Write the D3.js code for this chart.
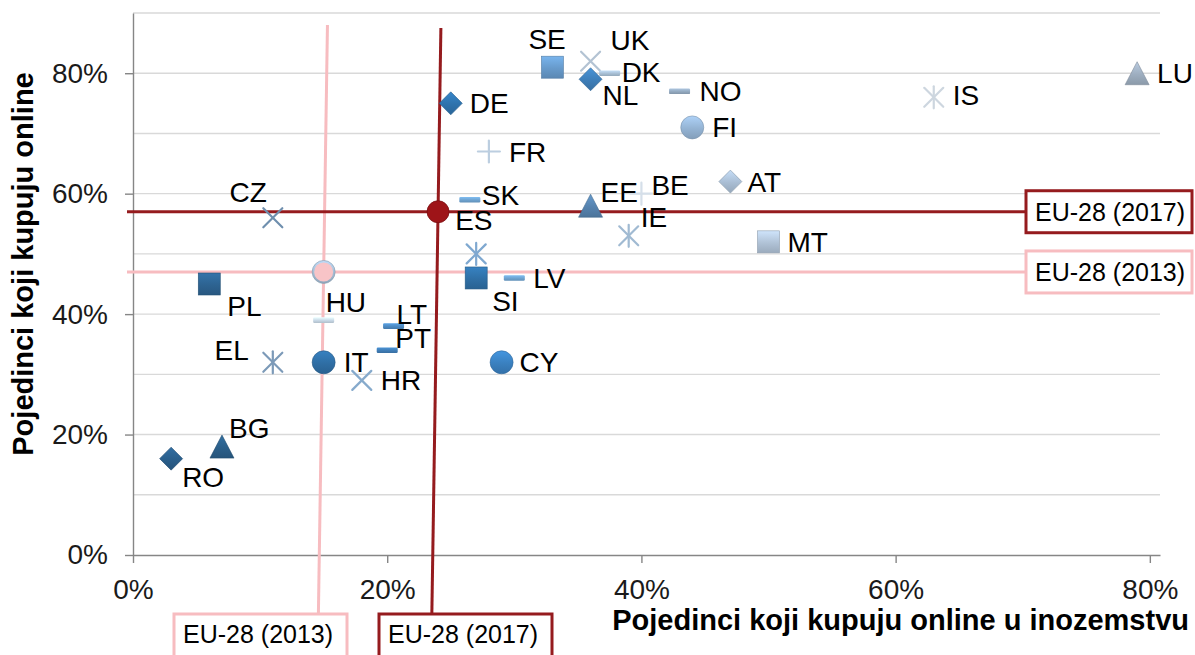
<!DOCTYPE html>
<html>
<head>
<meta charset="utf-8">
<script src="https://cdn.jsdelivr.net/npm/d3@7"></script>
<style>
  html, body { margin: 0; padding: 0; background: #fff; }
  svg { display: block; font-family: "Liberation Sans", Arial, sans-serif; }
</style>
</head>
<body>
<svg id="chart" width="1195" height="655"></svg>
<script>
// ---------------- DATA ----------------
const countries = ["RO","BG","PL","HU","CZ","EL","IT","HR","LT","PT","ES","SK","FR","DE","SE","UK","NL","DK","NO","FI","AT","BE","EE","IE","MT","IS","LU","SI","LV","CY","HU2"];
const crossBorderShare = [0.03,0.07,0.06,0.15,0.11,0.11,0.15,0.18,0.205,0.20,0.27,0.265,0.28,0.25,0.33,0.36,0.36,0.375,0.43,0.44,0.47,0.40,0.36,0.39,0.50,0.63,0.79,0.27,0.30,0.29,0.15];
const onlineShare      = [0.16,0.18,0.45,0.47,0.56,0.32,0.32,0.29,0.38,0.34,0.50,0.59,0.67,0.75,0.81,0.82,0.79,0.80,0.77,0.71,0.62,0.60,0.58,0.53,0.52,0.76,0.80,0.46,0.46,0.32,0.39];
const refNames = ["EU-28 (2013)", "EU-28 (2017)"];
const refCrossBorder = [0.15, 0.24];
const refOnline = [0.47, 0.57];
const xTickValues = [0, 0.2, 0.4, 0.6, 0.8];
const yTickValues = [0, 0.2, 0.4, 0.6, 0.8];
const yGridValues = [0.1,0.2,0.3,0.4,0.5,0.6,0.7,0.8,0.9];
const xTitle = "Pojedinci koji kupuju online u inozemstvu";
const yTitle = "Pojedinci koji kupuju online";

// ---------------- STYLES ----------------
const markerStyle = {
  RO:["diamond","#2A5E8B"], BG:["triangle","#2B5F8A"], PL:["square","#2D6391"], HU:["circle","#A3BCD4"],
  CZ:["x","#6F8FAE"], EL:["asterisk","#7C9AB8"], IT:["circle","#2F6EA4"], HR:["x","#86AACC"],
  LT:["dash","#4D8AC2"], PT:["dash","#3F7DB6"], ES:["asterisk","#7FA8D0"], SK:["dash","#6EA3D0"],
  FR:["plus","#BCCEE0"], DE:["diamond","#2E72AC"], SE:["square","#679ACB"], UK:["x","#B3C3D3"],
  NL:["diamond","#3E7EB8"], DK:["dash","#A8BFD4"], NO:["dash","#93A9BF"], FI:["circle","#94B3D3"],
  AT:["diamond","#A9BDD3"], BE:["plus","#D5DFE9"], EE:["triangle","#5683AF"], IE:["asterisk","#A0BAD2"],
  MT:["square","#B0C2D6"], IS:["asterisk","#CDD6DF"], LU:["triangle","#9EAEC0"], SI:["square","#2F6FA5"],
  LV:["dash","#6EA3D0"], CY:["circle","#3A80BF"], HU2:["dash","#C8D8E6"]
};
// label offsets: [dx, dy(center), anchor]
const labelPos = {
  RO:[11,18,"start"], BG:[7,-19,"start"], PL:[18,22,"start"], HU:[2,30,"start"], CZ:[-6,-26,"end"],
  EL:[-24,-12,"end"], IT:[20,0,"start"], HR:[19,0,"start"], LT:[3,-12,"start"], PT:[8,-12,"start"],
  ES:[-21,-34,"start"], SK:[12,-5,"start"], FR:[20,0,"start"], DE:[19,0,"start"], SE:[-24,-28,"start"],
  UK:[20,-21,"start"], NL:[12,16,"start"], DK:[12,-1,"start"], NO:[20,0,"start"], FI:[20,0,"start"],
  AT:[17,0,"start"], BE:[10,-9,"start"], EE:[10,-14,"start"], IE:[12,-19,"start"], MT:[19,0,"start"],
  IS:[19,-2,"start"], LU:[20,0,"start"], SI:[16,23,"start"], LV:[19,0,"start"], CY:[18,0,"start"]
};
const refColors = ["#F7BCC0", "#951B1E"];

// ---------------- SCALES ----------------
const svg = d3.select("#chart");
const xs = d3.scaleLinear().domain([0, 0.808]).range([133, 1160]);
const ys = d3.scaleLinear().domain([0, 0.9]).range([555, 13]);

const defs = svg.append("defs");
function gradFor(color, i) {
  const id = "g" + i;
  const c = d3.color(color);
  const g = defs.append("linearGradient").attr("id", id).attr("x1", 0).attr("y1", 0).attr("x2", 0).attr("y2", 1);
  g.append("stop").attr("offset", "0%").attr("stop-color", c.brighter(0.45).formatHex());
  g.append("stop").attr("offset", "55%").attr("stop-color", c.formatHex());
  g.append("stop").attr("offset", "100%").attr("stop-color", c.darker(0.35).formatHex());
  return "url(#" + id + ")";
}

// gridlines
svg.append("g").selectAll("line").data(yGridValues).join("line")
  .attr("x1", xs(0)).attr("x2", xs.range()[1])
  .attr("y1", d => ys(d)).attr("y2", d => ys(d))
  .attr("stroke", "#D9D9D9").attr("stroke-width", 1.4);

// axes
const yAxis = d3.axisLeft(ys).tickValues(yTickValues).tickFormat(d3.format(".0%"))
  .tickSize(8).tickSizeOuter(0).tickPadding(17);
const gy = svg.append("g").attr("transform", `translate(${xs(0)},0)`).call(yAxis);
const xAxis = d3.axisBottom(xs).tickValues(xTickValues).tickFormat(d3.format(".0%"))
  .tickSize(8).tickSizeOuter(0).tickPadding(16);
const gx = svg.append("g").attr("transform", `translate(0,${ys(0)})`).call(xAxis);
[gx, gy].forEach(g => {
  g.select(".domain").attr("stroke", "#868686").attr("stroke-width", 1.4);
  g.selectAll(".tick line").attr("stroke", "#868686").attr("stroke-width", 1.4);
  g.selectAll(".tick text").attr("font-size", 28).attr("fill", "#1a1a1a")
    .attr("font-family", "'Liberation Sans', Arial, sans-serif");
});

// reference lines (slightly slanted verticals as in the original)
const slant = 0.0154;
const boxLeft = 1026;
refNames.forEach((name, i) => {
  const cx = xs(refCrossBorder[i]), cy = ys(refOnline[i]);
  const col = refColors[i];
  svg.append("line").attr("x1", 127).attr("x2", boxLeft).attr("y1", cy).attr("y2", cy)
    .attr("stroke", col).attr("stroke-width", 3);
  const topY = i === 0 ? 25 : 28, botY = 614;
  svg.append("line")
    .attr("x1", cx + slant * (cy - topY)).attr("y1", topY)
    .attr("x2", cx - slant * (botY - cy)).attr("y2", botY)
    .attr("stroke", col).attr("stroke-width", 3);
});

// markers
function drawMarker(g, shape, color, i) {
  const dark = d3.color(color).darker(0.6).formatHex();
  if (shape === "circle") {
    g.append("circle").attr("r", 11.5).attr("fill", gradFor(color, i)).attr("stroke", dark).attr("stroke-width", 0.6);
  } else if (shape === "square") {
    g.append("rect").attr("x", -11).attr("y", -11).attr("width", 22).attr("height", 22)
      .attr("fill", gradFor(color, i)).attr("stroke", dark).attr("stroke-width", 0.6);
  } else if (shape === "diamond") {
    g.append("path").attr("d", "M0,-11.5L11.5,0L0,11.5L-11.5,0Z")
      .attr("fill", gradFor(color, i)).attr("stroke", dark).attr("stroke-width", 0.6);
  } else if (shape === "triangle") {
    g.append("path").attr("d", "M0,-11.5L12,11.5L-12,11.5Z")
      .attr("fill", gradFor(color, i)).attr("stroke", dark).attr("stroke-width", 0.6);
  } else if (shape === "dash") {
    g.append("rect").attr("x", -10.5).attr("y", -2.8).attr("width", 21).attr("height", 5.6).attr("rx", 1.2)
      .attr("fill", gradFor(color, i));
  } else {
    const segs = [];
    if (shape === "x" || shape === "asterisk") { segs.push([-9.5,-9.5,9.5,9.5], [-9.5,9.5,9.5,-9.5]); }
    if (shape === "asterisk") segs.push([0,-11,0,11]);
    if (shape === "plus") segs.push([-11,0,11,0],[0,-11,0,11]);
    segs.forEach(s => g.append("line").attr("x1", s[0]).attr("y1", s[1]).attr("x2", s[2]).attr("y2", s[3])
      .attr("stroke", color).attr("stroke-width", 2.2).attr("stroke-linecap", "round"));
  }
}
const pts = svg.append("g");
countries.forEach((c, i) => {
  const st = markerStyle[c];
  const g = pts.append("g").attr("transform", `translate(${xs(crossBorderShare[i])},${ys(onlineShare[i])})`);
  drawMarker(g, st[0], st[1], i);
});

// reference markers
refNames.forEach((name, i) => {
  svg.append("circle").attr("cx", xs(refCrossBorder[i])).attr("cy", ys(refOnline[i]))
    .attr("r", i === 0 ? 9.5 : 11)
    .attr("fill", i === 0 ? "#F8C4C7" : "#9E1418")
    .attr("stroke", i === 0 ? "none" : "#7A0E10").attr("stroke-width", 0.8);
});

// data labels
const lab = svg.append("g").attr("font-size", 28).attr("fill", "#000");
countries.forEach((c, i) => {
  const p = labelPos[c];
  if (!p) return;
  lab.append("text")
    .attr("x", xs(crossBorderShare[i]) + p[0])
    .attr("y", ys(onlineShare[i]) + p[1] + 10)
    .attr("text-anchor", p[2])
    .text(c);
});

// reference boxes
function refBox(x, y, w, h, col, text, textCenterY) {
  svg.append("rect").attr("x", x).attr("y", y).attr("width", w).attr("height", h)
    .attr("fill", "#fff").attr("stroke", col).attr("stroke-width", 3);
  svg.append("text").attr("x", x + 9).attr("y", textCenterY + 9).attr("font-size", 25).attr("fill", "#000").text(text);
}
// right side boxes
refNames.forEach((name, i) => {
  const cy = ys(refOnline[i]);
  refBox(boxLeft, cy - 21, 166, 42, refColors[i], name, cy);
});
// bottom boxes
refNames.forEach((name, i) => {
  const bx = i === 0 ? 174 : 379;
  refBox(bx, 614, 173, 60, refColors[i], name, 634);
});

// axis titles
svg.append("text").attr("x", 1189).attr("y", 630).attr("text-anchor", "end")
  .attr("font-size", 29).attr("font-weight", "bold").attr("fill", "#000").text(xTitle);
svg.append("text").attr("transform", "translate(33,264) rotate(-90)").attr("text-anchor", "middle")
  .attr("font-size", 29).attr("font-weight", "bold").attr("fill", "#000").text(yTitle);
</script>
</body>
</html>
